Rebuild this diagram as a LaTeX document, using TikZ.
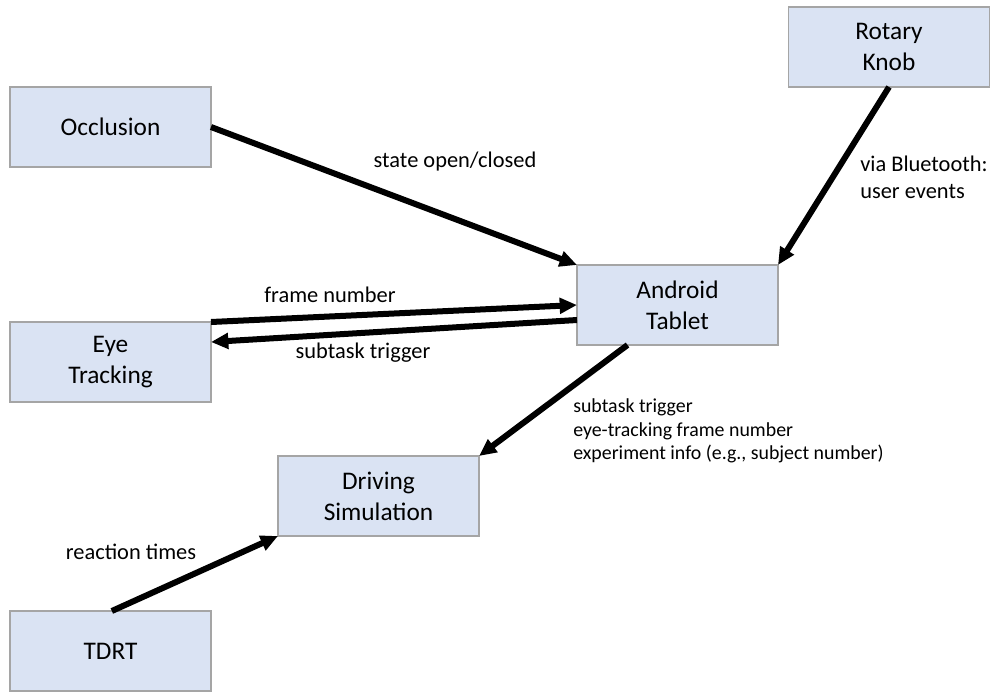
\documentclass[tikz,border=0pt]{standalone}
\usepackage{fontspec}
\setmainfont{Carlito}
\usetikzlibrary{arrows.meta}
\definecolor{boxfill}{RGB}{218,227,243}
\definecolor{boxline}{RGB}{165,165,165}
\tikzset{
	block/.style={draw=boxline, fill=boxfill, line width=0.9pt, minimum width=150.75pt,
		minimum height=60pt, inner sep=0pt, outer sep=0pt, align=center,
		font=\fontsize{19}{23.25}\selectfont},
	flow/.style={line width=4.5pt, -{Triangle[length=13pt,width=11.5pt]}},
	lbl/.style={font=\fontsize{16.8}{20.25}\selectfont, inner sep=0pt},
	smalllbl/.style={font=\fontsize{14.9}{17.8}\selectfont, inner sep=0pt}
}
\begin{document}
\begin{tikzpicture}[x=0.75pt,y=-0.75pt]
		\useasboundingbox (0,0) rectangle (992,693);

		\node[block] (occl) at (110.5,127) {Occlusion};
		\node[block] (knob) at (889,47) {Rotary\\Knob};
		\node[block] (tablet) at (677.5,305) {Android\\Tablet};
		\node[block] (eye) at (110.5,362) {Eye\\Tracking};
		\node[block] (driving) at (378.5,496) {Driving\\Simulation};
		\node[block] (tdrt) at (110.5,651) {TDRT};

		\draw[flow] (occl.east) -- (tablet.north west);
		\draw[flow] (knob.south) -- (tablet.north east);
		\draw[flow] (eye.north east) -- (tablet.west);
		\draw[flow] ([yshift=-11.25pt]tablet.west) -- ([yshift=15pt]eye.east);
		\draw[flow] ([xshift=-37.5pt]tablet.south) -- (driving.north east);
		\draw[flow] ([xshift=1pt]tdrt.north) -- (driving.south west);

		\node[lbl] (lopen) at (455,162) {state open/closed};
		\node[lbl, anchor=west, align=left] (lbt) at (860,177) {via Bluetooth:\\user events};
		\node[lbl] (lframe) at (330,295) {frame number};
		\node[lbl] (ltrig) at (363,353) {subtask trigger};
		\node[smalllbl, anchor=west, align=left] (linfo) at (573,431) {subtask trigger\\eye-tracking frame number\\experiment info (e.g., subject number)};
		\node[lbl] (lreact) at (131,552) {reaction times};
\end{tikzpicture}
\end{document}
